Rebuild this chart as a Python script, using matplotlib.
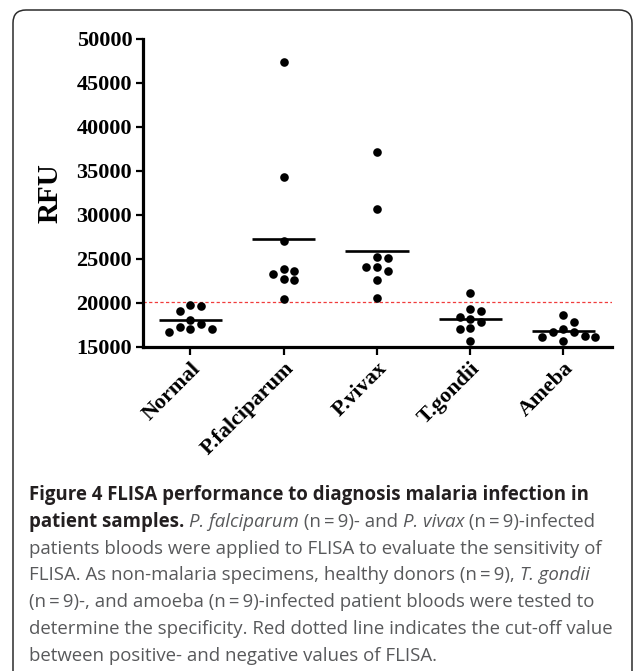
import numpy as np
import matplotlib.pyplot as plt
from matplotlib.patches import FancyBboxPatch
from matplotlib.transforms import IdentityTransform, ScaledTranslation

# RFU values (n = 9 per group)
groups = ['Normal', 'P.falciparum', 'P.vivax', 'T.gondii', 'Ameba']
normal = [19740, 19630, 19090, 18000, 17610, 17270, 17010, 17010, 16710]
p_falciparum = [47300, 34300, 27010, 23830, 23570, 23230, 22730, 22550, 20420]
p_vivax = [37150, 30610, 25230, 25050, 24090, 24090, 23640, 22580, 20570]
t_gondii = [21140, 19250, 19090, 18410, 18180, 17810, 17090, 16980, 15650]
ameba = [18570, 17810, 16980, 16670, 16670, 16220, 16070, 16070, 15650]
cutoff = 20100
yticks = [15000, 20000, 25000, 30000, 35000, 40000, 45000, 50000]

W, H = 633, 671
fig = plt.figure(figsize=(W / 100, H / 100), dpi=100)

# rounded frame around the figure (open at the bottom like the source page)
frame = FancyBboxPatch((13, -30), 619, H - 10 + 30, boxstyle='round,pad=0,rounding_size=13',
                       transform=IdentityTransform(), fill=False, ec='#2b2b2b', lw=1.1)
fig.patches.append(frame)

ax = fig.add_axes([143.3 / W, 1 - 346.7 / H, (612 - 143.3) / W, (346.7 - 38.7) / H])
ax.set_xlim(-0.505, 4.52)
ax.set_ylim(15000, 50000)

serif = 'Liberation Serif'


def swarm_offsets(vals, xc, diam=8.6, step=10.6):
    # simple beeswarm: put each dot on the nearest free column slot
    order = np.argsort(vals)[::-1]
    placed = []
    offs = np.zeros(len(vals))
    for i in order:
        y = ax.transData.transform((xc, vals[i]))[1]
        for k in [0, 1, -1, 2, -2, 3, -3, 4, -4]:
            if all(np.hypot((k - pk) * step, y - py) >= diam for pk, py in placed):
                break
        placed.append((k, y))
        offs[i] = k * step
    px_per_unit = ax.transData.transform((1, 0))[0] - ax.transData.transform((0, 0))[0]
    return offs / px_per_unit


data = [normal, p_falciparum, p_vivax, t_gondii, ameba]
for i, vals in enumerate(data):
    vals = np.array(vals, dtype=float)
    dx = swarm_offsets(vals, i)
    ax.plot(i + dx, vals, 'o', color='black', ms=6.2, mew=0, clip_on=False, zorder=3)
    m = vals.mean()
    ax.plot([i - 0.34, i + 0.34], [m, m], color='black', lw=1.9, solid_capstyle='butt', zorder=4)

ax.axhline(cutoff, color='#f03c3c', lw=0.9, linestyle=(0, (2.6, 1.9)), zorder=2)

for s in ['top', 'right']:
    ax.spines[s].set_visible(False)
for s in ['left', 'bottom']:
    ax.spines[s].set_linewidth(2.3)

ax.set_yticks(yticks)
ax.set_yticklabels([str(v) for v in yticks], fontfamily=serif, fontweight='bold', fontsize=16)
ax.tick_params(axis='y', length=5, width=1.6, pad=3)
ax.set_xticks(range(len(groups)))
ax.set_xticklabels([])
ax.tick_params(axis='x', length=6, width=1.6)

off = ScaledTranslation(7 / 100, -19 / 100, fig.dpi_scale_trans)
for i, g in enumerate(groups):
    ax.text(i, 0, g, transform=ax.get_xaxis_transform() + off, rotation=45,
            rotation_mode='anchor', ha='right', va='center',
            fontfamily=serif, fontweight='bold', fontsize=16)

ax.set_ylabel('RFU', fontfamily=serif, fontweight='bold', fontsize=21)
ax.yaxis.label.set_va('center')
ax.yaxis.set_label_coords((50 - 143.3) / (612 - 143.3), 0.5)

# caption, drawn piece by piece so bold / italic / regular can share a line
dark = '#231f20'
grey = '#58595b'
cap_font = ['Open Sans', 'DejaVu Sans']
B, R, I = 'bold', 'regular', 'italic'
caption = [
    [('Figure 4 FLISA performance to diagnosis malaria infection in', B)],
    [('patient samples.', B), (' ', R), ('P. falciparum', I), (' (n\u2009=\u20099)- and ', R),
     ('P. vivax', I), (' (n\u2009=\u20099)-infected', R)],
    [('patients bloods were applied to FLISA to evaluate the sensitivity of', R)],
    [('FLISA. As non-malaria specimens, healthy donors (n\u2009=\u20099), ', R), ('T. gondii', I)],
    [('(n\u2009=\u20099)-, and amoeba (n\u2009=\u20099)-infected patient bloods were tested to', R)],
    [('determine the specificity. Red dotted line indicates the cut-off value', R)],
    [('between positive- and negative values of FLISA.', R)],
]

renderer = fig.canvas.get_renderer()


def text_width(s, style, size):
    kw = dict(fontfamily=cap_font, fontsize=size,
              fontweight='bold' if style == B else 'normal',
              fontstyle='italic' if style == I else 'normal')
    a = fig.text(0, 0, '|' + s + '|', **kw)
    b = fig.text(0, 0, '||', **kw)
    w = a.get_window_extent(renderer).width - b.get_window_extent(renderer).width
    a.remove()
    b.remove()
    return w, kw


# fit the font size so the widest body line spans the caption width
w10, _ = text_width(caption[2][0][0], R, 10)
cap_size = 10 * 574 / w10

x0 = 29
for li, line in enumerate(caption):
    base = H - (500 + 26.8 * li)
    x = x0
    for s, style in line:
        w, kw = text_width(s, style, cap_size)
        fig.text(x, base, s, transform=IdentityTransform(), va='baseline', ha='left',
                 color=dark if style == B else grey, **kw)
        x += w

fig.savefig('out.png', dpi=100)
